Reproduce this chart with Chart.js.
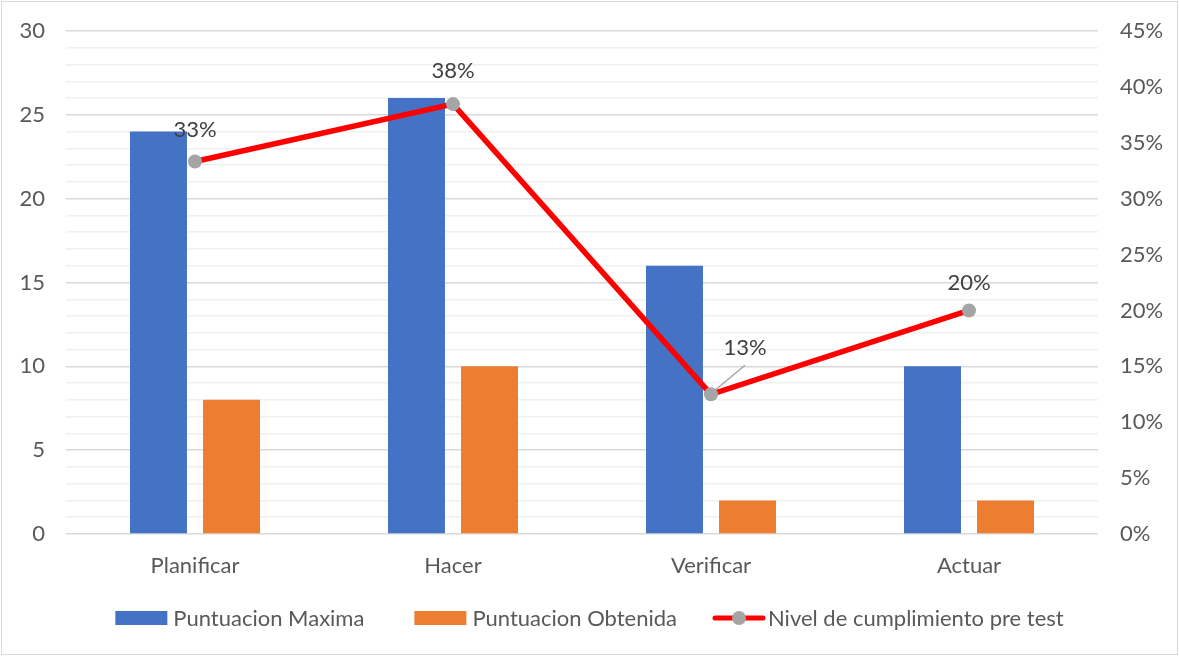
<!DOCTYPE html>
<html>
<head>
<meta charset="utf-8">
<script src="https://cdn.jsdelivr.net/npm/chart.js@4/dist/chart.umd.min.js"></script>
<style>
  html, body { margin: 0; padding: 0; background: #fff; }
  #wrap { width: 1179px; height: 656px; position: relative; }
</style>
</head>
<body>
<div id="wrap"><canvas id="chart" width="1179" height="656"></canvas></div>
<script>
// categorias del ciclo PHVA
var fases = ['Planificar', 'Hacer', 'Verificar', 'Actuar'];
var puntuacionMaxima = [24, 26, 16, 10];
var puntuacionObtenida = [8, 10, 2, 2];
var nivelCumplimiento = [0.3333, 0.3846, 0.125, 0.20];
var etiquetasNivel = ['33%', '38%', '13%', '20%'];

var FONT = 'Lato, "Noto Sans", sans-serif';
var TEXT = '#595959';

// etiquetas de porcentaje sobre la linea (13% lleva linea guia)
var labelOffsets = [[0, -32], [0, -33], [34, -46], [0, -28]];

var pctLabels = {
  id: 'pctLabels',
  afterDatasetsDraw: function(chart) {
    var ctx = chart.ctx;
    var meta = chart.getDatasetMeta(0);
    ctx.save();
    ctx.font = '22px ' + FONT;
    ctx.fillStyle = '#404040';
    ctx.textAlign = 'center';
    ctx.textBaseline = 'middle';
    meta.data.forEach(function(pt, i) {
      var off = labelOffsets[i];
      var lx = pt.x + off[0], ly = pt.y + off[1];
      if (off[0] !== 0) {
        ctx.strokeStyle = '#a5a5a5';
        ctx.lineWidth = 1.5;
        ctx.beginPath();
        ctx.moveTo(pt.x + 4, pt.y - 4);
        ctx.lineTo(lx, ly + 17);
        ctx.stroke();
      }
      ctx.fillText(etiquetasNivel[i], lx, ly);
    });
    ctx.restore();
  }
};

// leyenda dibujada a mano + borde del grafico
var legendFrame = {
  id: 'legendFrame',
  afterDraw: function(chart) {
    var ctx = chart.ctx;
    ctx.save();
    ctx.strokeStyle = '#d9d9d9';
    ctx.lineWidth = 1;
    ctx.strokeRect(1.5, 1.5, 1176, 653);

    ctx.font = '22px ' + FONT;
    ctx.textBaseline = 'middle';
    var y = 618;
    var items = [
      { type: 'bar', color: '#4472c4', text: 'Puntuacion Maxima', before: 0, gap: 6 },
      { type: 'bar', color: '#ed7d31', text: 'Puntuacion Obtenida', before: 50, gap: 6 },
      { type: 'line', color: '#ff0000', text: 'Nivel de cumplimiento pre test', before: 36, gap: 3 }
    ];
    var sym = 52;
    var total = 0;
    items.forEach(function(it) {
      it.w = sym + it.gap + ctx.measureText(it.text).width;
      total += it.w + it.before;
    });
    var x = (chart.width - total) / 2;
    items.forEach(function(it) {
      x += it.before;
      if (it.type === 'bar') {
        ctx.fillStyle = it.color;
        ctx.fillRect(x, y - 7, sym, 14);
      } else {
        ctx.strokeStyle = it.color;
        ctx.lineWidth = 5;
        ctx.lineCap = 'round';
        ctx.beginPath();
        ctx.moveTo(x + 2, y);
        ctx.lineTo(x + sym - 2, y);
        ctx.stroke();
        ctx.fillStyle = '#a5a5a5';
        ctx.beginPath();
        ctx.arc(x + sym / 2, y, 7, 0, Math.PI * 2);
        ctx.fill();
      }
      ctx.fillStyle = TEXT;
      ctx.textAlign = 'left';
      ctx.fillText(it.text, x + sym + it.gap, y + 1);
      x += it.w;
    });
    ctx.restore();
  }
};

new Chart(document.getElementById('chart'), {
  type: 'bar',
  data: {
    labels: fases,
    datasets: [
      {
        type: 'line',
        label: 'Nivel de cumplimiento pre test',
        data: nivelCumplimiento,
        yAxisID: 'y1',
        borderColor: '#ff0000',
        borderWidth: 5.5,
        pointBackgroundColor: '#a5a5a5',
        pointBorderColor: '#a5a5a5',
        pointRadius: 7,
        pointBorderWidth: 0,
        tension: 0,
        order: 0
      },
      {
        label: 'Puntuacion Maxima',
        data: puntuacionMaxima,
        backgroundColor: '#4472c4',
        yAxisID: 'y',
        categoryPercentage: 0.566,
        barPercentage: 0.78,
        order: 1
      },
      {
        label: 'Puntuacion Obtenida',
        data: puntuacionObtenida,
        backgroundColor: '#ed7d31',
        yAxisID: 'y',
        categoryPercentage: 0.566,
        barPercentage: 0.78,
        order: 2
      }
    ]
  },
  options: {
    responsive: false,
    animation: false,
    layout: { padding: { top: 31, bottom: 62, left: 0, right: 0 } },
    plugins: {
      legend: { display: false },
      tooltip: { enabled: false }
    },
    scales: {
      x: {
        grid: { display: false },
        border: { display: false },
        ticks: { color: TEXT, font: { family: FONT, size: 22 }, padding: 11 },
        afterFit: function(s) { s.height = 60; }
      },
      y: {
        position: 'left',
        min: 0,
        max: 30,
        border: { display: false },
        grid: {
          drawTicks: false,
          color: function(c) { return c.tick.value % 5 === 0 ? '#d9d9d9' : '#f0f0f0'; },
          lineWidth: 1.5
        },
        ticks: {
          stepSize: 1,
          autoSkip: false,
          padding: 21,
          color: TEXT,
          font: { family: FONT, size: 22 },
          callback: function(v) { return v % 5 === 0 ? v : ''; }
        },
        afterFit: function(s) { s.width = 66; s.paddingTop = 0; s.paddingBottom = 0; }
      },
      y1: {
        position: 'right',
        min: 0,
        max: 0.45,
        border: { display: false },
        grid: { display: false, drawTicks: false },
        ticks: {
          stepSize: 0.05,
          padding: 22,
          color: TEXT,
          font: { family: FONT, size: 22 },
          callback: function(v) { return Math.round(v * 100) + '%'; }
        },
        afterFit: function(s) { s.width = 81; s.paddingTop = 0; s.paddingBottom = 0; }
      }
    }
  },
  plugins: [pctLabels, legendFrame]
});
</script>
</body>
</html>
